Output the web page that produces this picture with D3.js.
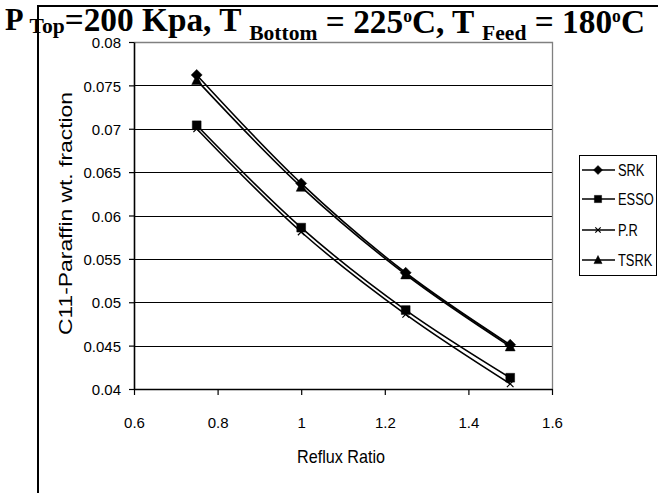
<!DOCTYPE html>
<html><head><meta charset="utf-8">
<script src="https://cdn.jsdelivr.net/npm/d3@7"></script>
<style>body{margin:0;background:#fff}svg{display:block}</style>
</head><body>
<svg id="chart" width="658" height="493"></svg>
<script>
const refluxRatio = [0.75, 1.0, 1.25, 1.5];
const srk  = [0.0762, 0.0637, 0.0534, 0.0451];
const esso = [0.0704, 0.0586, 0.0491, 0.0413];
const pr   = [0.0700, 0.0581, 0.0486, 0.0406];
const tsrk = [0.0756, 0.0633, 0.0532, 0.0449];
const seriesNames = ["SRK", "ESSO", "P.R", "TSRK"];
const xTicks = [0.6, 0.8, 1, 1.2, 1.4, 1.6];
const yTicks = [0.04, 0.045, 0.05, 0.055, 0.06, 0.065, 0.07, 0.075, 0.08];

const series = [
  {name: seriesNames[0], values: srk,  marker: "diamond"},
  {name: seriesNames[1], values: esso, marker: "square"},
  {name: seriesNames[2], values: pr,   marker: "cross"},
  {name: seriesNames[3], values: tsrk, marker: "triangle"}
];

const svg = d3.select("#chart");
const font = "'Liberation Sans', Arial, sans-serif";
const L = 134, R = 552, T = 42, B = 389;
const x = d3.scaleLinear().domain([0.6, 1.6]).range([L, R]);
const y = d3.scaleLinear().domain([0.04, 0.08]).range([B, T]);

// outer frame
svg.append("line").attr("x1", 37).attr("x2", 658).attr("y1", 6).attr("y2", 6).attr("stroke", "#000").attr("stroke-width", 2);
svg.append("line").attr("x1", 38).attr("x2", 38).attr("y1", 5).attr("y2", 493).attr("stroke", "#000").attr("stroke-width", 2);

// gridlines
svg.append("g").selectAll("line").data(yTicks.slice(1, -1)).join("line")
  .attr("x1", L).attr("x2", R).attr("y1", d => Math.round(y(d)) + 0.5).attr("y2", d => Math.round(y(d)) + 0.5)
  .attr("stroke", "#000").attr("stroke-width", 1.1);
// top/right border gray
svg.append("path").attr("d", `M${L},${T + 0.5}H${R + 0.5}V${B}`).attr("fill", "none").attr("stroke", "#808080").attr("stroke-width", 1.3);

// axes
const xAxis = d3.axisBottom(x).tickValues(xTicks).tickSize(6).tickSizeOuter(0).tickFormat(d3.format("~g"));
const gx = svg.append("g").attr("transform", `translate(0,${B})`).call(xAxis);
gx.select(".domain").attr("stroke", "#000").attr("stroke-width", 1.6);
gx.selectAll(".tick line").attr("stroke", "#000").attr("stroke-width", 1.2);
gx.selectAll("text").attr("font-family", font).attr("font-size", 15).attr("fill", "#000").attr("y", 39).attr("dy", null);

const yAxis = d3.axisLeft(y).tickValues(yTicks).tickSize(5).tickSizeOuter(0).tickFormat(d3.format("~g"));
const gy = svg.append("g").attr("transform", `translate(${L},0)`).call(yAxis);
gy.select(".domain").attr("stroke", "#000").attr("stroke-width", 1.6);
gy.selectAll(".tick line").attr("stroke", "#000").attr("stroke-width", 1.2);
gy.selectAll("text").attr("font-family", font).attr("font-size", 15).attr("fill", "#000").attr("x", -13).attr("dy", "0.38em");

// axis titles
svg.append("text").attr("x", 297).attr("y", 463)
  .attr("font-family", font).attr("font-size", 19).attr("textLength", 88).attr("lengthAdjust", "spacingAndGlyphs").text("Reflux Ratio");
svg.append("text").attr("transform", "translate(72,335) rotate(-90)")
  .attr("font-family", font).attr("font-size", 19).attr("textLength", 243).attr("lengthAdjust", "spacingAndGlyphs").text("C11-Paraffin wt. fraction");

// lines
const line = d3.line().x(d => x(d[0])).y(d => y(d[1])).curve(d3.curveCatmullRom.alpha(0.5));
function markerPath(type, s) {
  if (type === "diamond") return `M0,${-s}L${s},0L0,${s}L${-s},0Z`;
  if (type === "square") return `M${-s*0.8},${-s*0.8}H${s*0.8}V${s*0.8}H${-s*0.8}Z`;
  if (type === "triangle") return `M0,${-s}L${s*0.9},${s*0.8}L${-s*0.9},${s*0.8}Z`;
  return `M${-s*0.6},${-s*0.6}L${s*0.6},${s*0.6}M${-s*0.6},${s*0.6}L${s*0.6},${-s*0.6}`;
}
series.forEach(s => {
  const pts = refluxRatio.map((r, i) => [r, s.values[i]]);
  svg.append("path").datum(pts).attr("d", line).attr("fill", "none").attr("stroke", "#000").attr("stroke-width", 1.6);
  svg.append("g").selectAll("path").data(pts).join("path")
    .attr("transform", d => `translate(${x(d[0])},${y(d[1])})`)
    .attr("d", markerPath(s.marker, 5.5))
    .attr("fill", s.marker === "cross" ? "none" : "#000").attr("stroke", "#000").attr("stroke-width", s.marker === "cross" ? 1.2 : 0.5);
});

// legend
const lg = svg.append("g");
lg.append("rect").attr("x", 579.5).attr("y", 155.5).attr("width", 77).attr("height", 120).attr("fill", "#fff").attr("stroke", "#000").attr("stroke-width", 1);
const legendY = [170, 199, 230, 260];
series.forEach((s, i) => {
  const ly = legendY[i];
  lg.append("line").attr("x1", 582).attr("x2", 615).attr("y1", ly).attr("y2", ly).attr("stroke", "#000").attr("stroke-width", 1.5);
  lg.append("path").attr("transform", `translate(598,${ly})`).attr("d", markerPath(s.marker, 4.5))
    .attr("fill", s.marker === "cross" ? "none" : "#000").attr("stroke", "#000").attr("stroke-width", s.marker === "cross" ? 1.2 : 0.5);
  lg.append("text").attr("transform", `translate(618,${ly + 6}) scale(0.78,1)`).attr("font-family", font).attr("font-size", 16.5)
    .text(s.name);
});

// title: separate pieces laid out in sequence, then fitted to the width
const tg = svg.append("g");
const parts = [
  ["P ", 30, 31], ["Top", 33, 22], ["=200 Kpa, T ", 31, 34], ["Bottom", 40, 22], [" = 225", 33, 34],
  ["o", 22, 18], ["C, T ", 33, 34], ["Feed", 40, 22], [" = 180", 33, 34], ["o", 22, 18], ["C", 33, 34]
];
let cx = 0;
parts.forEach(p => {
  const t = tg.append("text").attr("x", cx).attr("y", p[1]).attr("font-size", p[2])
    .attr("font-family", "'Liberation Serif', 'Times New Roman', serif").attr("font-weight", "bold")
    .attr("fill", "#000").attr("xml:space", "preserve").style("white-space", "pre").text(p[0]);
  cx += t.node().getComputedTextLength();
});
const sx = 640 / cx;
tg.attr("transform", `translate(5,0) scale(${sx},1)`);
</script>
</body></html>
